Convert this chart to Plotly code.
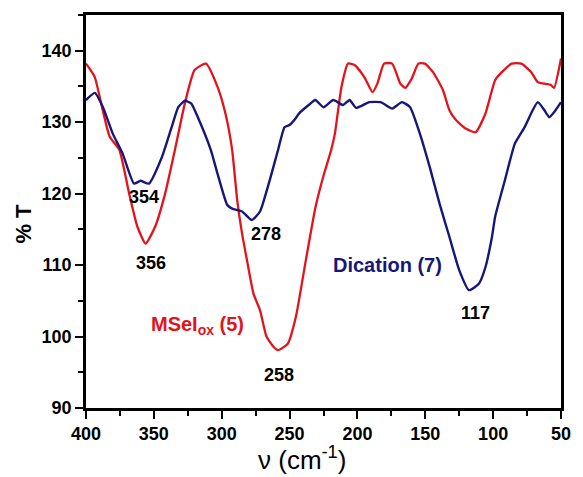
import plotly.graph_objects as go

# MSeIox (5) spectrum (red)
red_x = [400, 397, 393.5, 387.7, 382.6, 375.4, 368.2, 362.2, 356.1, 349, 341.7, 334.5, 327.2, 320,
         311.6, 303, 297, 292.3, 288.6, 285, 281.4, 276.6, 271.8, 267, 262, 258.5, 251.3, 245.3,
         238, 230.8, 225, 219.5, 216.6, 211.8, 206.9, 202.1, 194.9, 188.9, 185.3, 180.4, 174.4,
         168.4, 164.8, 160, 155.1, 150.3, 144.3, 137, 132.3, 127.4, 120.2, 112.9, 105.7, 98.5, 93.6,
         86.4, 79.2, 71.9, 67.1, 57.5, 55.1, 50]
red_y = [138.2, 137.4, 136.3, 131.7, 128.0, 126.1, 120.0, 115.4, 113.0, 115.4, 120.0, 126.1, 132.6,
         137.3, 138.2, 134.9, 131.0, 126.1, 119.1, 114.4, 110.7, 106.0, 103.7, 100.0, 98.6, 98.1,
         99.0, 102.8, 110.7, 118.2, 122.5, 126.0, 128.4, 134.9, 138.2, 138.0, 136.3, 134.2, 135.4,
         138.2, 138.2, 135.4, 134.8, 136.1, 138.2, 138.2, 137.0, 134.5, 131.7, 130.3, 129.1, 128.6,
         131.2, 135.9, 137.0, 138.2, 138.2, 137.0, 135.6, 135.2, 134.8, 138.9]

# Dication (7) spectrum (blue)
blue_x = [400, 393.5, 387.5, 380.3, 373, 364.6, 359.8, 353.7, 344.1, 336.9, 332, 327.2, 322.4, 317.6,
          308, 303.1, 295.9, 292.3, 285, 277.8, 271.8, 264.6, 258.5, 253.7, 250.1, 245.3, 243.1,
          235.9, 231, 225, 217.8, 210.6, 205.8, 201, 191.3, 182.9, 174.4, 167.2, 161.2, 154, 146.7,
          139.5, 132.3, 125, 117.8, 110.5, 105.7, 100.9, 98.5, 91.3, 84, 76.8, 70.8, 67.1, 62.3,
          58.7, 53.9, 50]
blue_y = [133.1, 134.1, 132.1, 128.4, 125.6, 121.4, 121.8, 121.4, 125.1, 129.3, 132.1, 133.0, 132.6,
          130.7, 126.1, 122.8, 118.4, 117.9, 117.5, 116.3, 117.5, 121.9, 126.1, 129.3, 129.6, 130.6,
          131.2, 132.4, 133.1, 132.1, 133.1, 132.4, 133.1, 132.0, 132.8, 132.8, 131.9, 132.8, 132.1,
          128.4, 123.7, 118.6, 114.0, 109.3, 106.5, 107.4, 109.7, 113.9, 116.8, 121.9, 127.0, 129.3,
          131.7, 132.8, 131.7, 130.7, 131.7, 132.8]

# Peak labels
peak_text = ["354", "356", "278", "258", "117"]
peak_x = [357.3, 352.3, 267.7, 257.6, 112.9]
peak_y = [119.5, 110.3, 114.3, 94.6, 103.3]

x_ticks = [400, 350, 300, 250, 200, 150, 100, 50]
y_ticks = [90, 100, 110, 120, 130, 140]

RED = "#e3131b"
BLUE = "#17177a"
FONT = "Liberation Sans, Arial, sans-serif"

fig = go.Figure()
fig.add_trace(go.Scatter(x=red_x, y=red_y, mode="lines",
                         line=dict(color=RED, width=2.3, shape="spline", smoothing=0.5)))
fig.add_trace(go.Scatter(x=blue_x, y=blue_y, mode="lines",
                         line=dict(color=BLUE, width=2.4, shape="spline", smoothing=0.5)))

for t, x, y in zip(peak_text, peak_x, peak_y):
    fig.add_annotation(x=x, y=y, text="<b>%s</b>" % t, showarrow=False,
                       font=dict(family=FONT, size=18, color="black"))

fig.add_annotation(x=178, y=110, text="<b>Dication (7)</b>", showarrow=False,
                   font=dict(family=FONT, size=20, color=BLUE))
fig.add_annotation(x=317.6, y=101.6, text="<b>MSeI<sub>ox</sub> (5)</b>", showarrow=False,
                   font=dict(family=FONT, size=20, color=RED))

# Axis titles
fig.add_annotation(xref="paper", yref="paper", x=0.4545, y=-0.128, xanchor="center", yanchor="middle",
                   text="ν (cm<sup>-1</sup>)", showarrow=False,
                   font=dict(family=FONT, size=26, color="black"))
fig.add_annotation(xref="paper", yref="paper", x=-0.132, y=0.47, xanchor="center", yanchor="middle",
                   text="<b>% T</b>", showarrow=False, textangle=-90,
                   font=dict(family=FONT, size=22, color="black"))

axis_common = dict(showline=True, linecolor="black", linewidth=2.5, mirror=True,
                   ticks="outside", ticklen=8, tickwidth=2, tickcolor="black",
                   showgrid=False, zeroline=False,
                   tickfont=dict(family=FONT, size=18, color="black", weight="bold"))

fig.update_xaxes(range=[400, 50], tickvals=x_ticks,
                 minor=dict(dtick=25, ticks="outside", ticklen=5, tickwidth=2, tickcolor="black", tick0=0),
                 **axis_common)
fig.update_yaxes(range=[90, 145], tickvals=y_ticks,
                 minor=dict(dtick=5, ticks="outside", ticklen=5, tickwidth=2, tickcolor="black", tick0=0),
                 **axis_common)

fig.update_layout(width=583, height=477, margin=dict(l=86, r=13, t=15, b=69),
                  plot_bgcolor="white", paper_bgcolor="white", showlegend=False)

fig.write_html("out.html")
